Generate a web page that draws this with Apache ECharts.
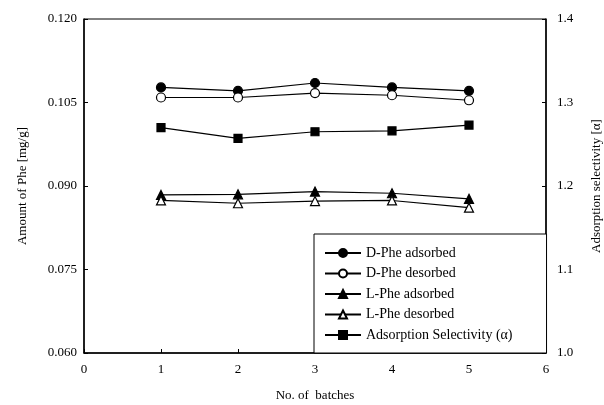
<!DOCTYPE html>
<html>
<head>
<meta charset="utf-8">
<script src="https://cdn.jsdelivr.net/npm/echarts@6/dist/echarts.min.js"></script>
<style>
  html, body { margin: 0; padding: 0; background: #fff; }
  #chart { width: 604px; height: 405px; }
</style>
</head>
<body>
<div id="chart"></div>
<script>
// batch numbers on the x axis
var batches = [1, 2, 3, 4, 5];
// amounts of Phe [mg/g], left axis
var dPheAdsorbed = [0.1077, 0.1071, 0.1085, 0.1077, 0.1071];
var dPheDesorbed = [0.1059, 0.1059, 0.1067, 0.1063, 0.1054];
var lPheAdsorbed = [0.0884, 0.0885, 0.0890, 0.0887, 0.0877];
var lPheDesorbed = [0.0874, 0.0869, 0.0873, 0.0874, 0.0861];
// adsorption selectivity, right axis
var selectivity = [1.270, 1.257, 1.265, 1.266, 1.273];

var leftTicks = ['0.060', '0.075', '0.090', '0.105', '0.120'];

function pairs(vals) {
  return batches.map(function (b, i) { return [b, vals[i]]; });
}

var font = 'Liberation Serif';
var chart = echarts.init(document.getElementById('chart'));

function lineSeries(name, vals, symbol, filled, axis) {
  return {
    name: name,
    type: 'line',
    yAxisIndex: axis,
    data: pairs(vals),
    symbol: symbol,
    symbolSize: symbol === 'rect' ? 8 : 9,
    showSymbol: true,
    animation: false,
    lineStyle: { color: '#000', width: 1.2 },
    itemStyle: {
      color: filled ? '#000' : '#fff',
      borderColor: '#000',
      borderWidth: 1.2
    }
  };
}

var option = {
  backgroundColor: '#fff',
  animation: false,
  grid: {
    left: 84, right: 58, top: 19, bottom: 52,
    outerBoundsMode: 'none',
    show: true, borderColor: '#000', borderWidth: 1
  },
  xAxis: {
    type: 'value', min: 0, max: 6, interval: 1,
    name: 'No. of  batches', nameLocation: 'middle', nameGap: 36,
    nameTextStyle: { fontFamily: font, fontSize: 13, color: '#000' },
    axisLine: { lineStyle: { color: '#000', width: 1.5 } },
    axisTick: { inside: true, length: 4, lineStyle: { color: '#000' } },
    axisLabel: { fontFamily: font, fontSize: 13, color: '#000', margin: 10 },
    splitLine: { show: false }
  },
  yAxis: [{
    type: 'value', min: 0.060, max: 0.120, interval: 0.015,
    name: 'Amount of Phe [mg/g]', nameLocation: 'middle', nameGap: 55,
    nameTextStyle: { fontFamily: font, fontSize: 13, color: '#000' },
    axisLine: { show: true, lineStyle: { color: '#000', width: 1.5 } },
    axisTick: { show: true, inside: true, length: 4, lineStyle: { color: '#000' } },
    axisLabel: {
      fontFamily: font, fontSize: 13, color: '#000', margin: 7,
      formatter: function (v) {
        var i = Math.round((v - 0.060) / 0.015);
        return leftTicks[i];
      }
    },
    splitLine: { show: false }
  }, {
    type: 'value', min: 1.0, max: 1.4, interval: 0.1,
    name: 'Adsorption selectivity [α]', nameLocation: 'middle', nameGap: 44,
    nameTextStyle: { fontFamily: font, fontSize: 13, color: '#000' },
    axisLine: { show: true, lineStyle: { color: '#000', width: 1.5 } },
    axisTick: { show: true, inside: true, length: 4, lineStyle: { color: '#000' } },
    axisLabel: {
      fontFamily: font, fontSize: 13, color: '#000', margin: 11,
      formatter: function (v) { return v.toFixed(1); }
    },
    splitLine: { show: false }
  }],
  legend: {
    orient: 'vertical',
    left: 314, top: 234,
    padding: [12, 34, 11, 10],
    itemGap: 6.5,
    itemWidth: 36, itemHeight: 10,
    borderColor: '#000', borderWidth: 1,
    backgroundColor: '#fff',
    textStyle: { fontFamily: font, fontSize: 14, color: '#000' },
    data: ['D-Phe adsorbed', 'D-Phe desorbed', 'L-Phe adsorbed', 'L-Phe desorbed',
      'Adsorption Selectivity (α)']
  },
  series: [
    lineSeries('D-Phe adsorbed', dPheAdsorbed, 'circle', true, 0),
    lineSeries('D-Phe desorbed', dPheDesorbed, 'circle', false, 0),
    lineSeries('L-Phe adsorbed', lPheAdsorbed, 'triangle', true, 0),
    lineSeries('L-Phe desorbed', lPheDesorbed, 'triangle', false, 0),
    lineSeries('Adsorption Selectivity (α)', selectivity, 'rect', true, 1)
  ]
};

chart.setOption(option);
</script>
</body>
</html>
